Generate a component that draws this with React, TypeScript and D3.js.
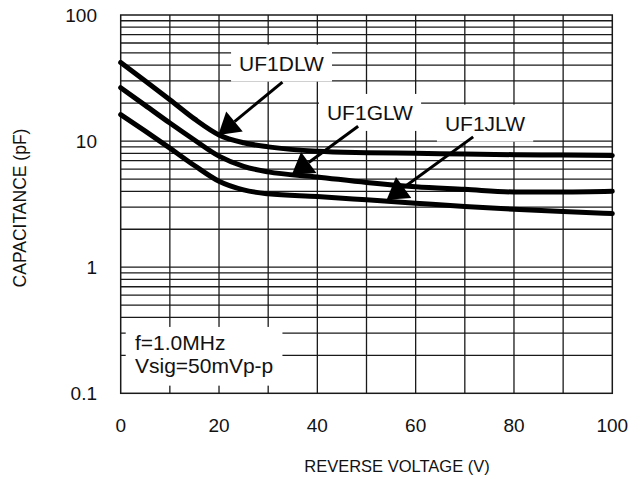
import React, { useEffect, useRef } from 'react';
import * as d3 from 'd3';

// reverse voltage (V) and capacitance (pF)
const voltage = [0, 5, 10, 15, 20, 25, 30, 40, 50, 60, 70, 80, 90, 100];
const capUF1DLW = [42, 30, 21.3, 15, 11.2, 9.7, 9.0, 8.3, 8.1, 8.0, 7.9, 7.8, 7.75, 7.7];
const capUF1GLW = [26.5, 19.2, 13.9, 10.2, 7.6, 6.3, 5.7, 5.2, 4.7, 4.35, 4.15, 3.95, 3.95, 4.0];
const capUF1JLW = [16.2, 12, 8.8, 6.4, 4.8, 4.1, 3.82, 3.63, 3.42, 3.22, 3.03, 2.88, 2.76, 2.66];

const xTicks = [0, 20, 40, 60, 80, 100];
const yTicks = [0.1, 1, 10, 100];
const yTickLabels = ['0.1', '1', '10', '100'];

// annotation callouts, in data units (V, pF)
const seriesNames = ['UF1DLW', 'UF1GLW', 'UF1JLW'];
const labelAt = [[32.7, 41.6], [50.7, 16.9], [74.1, 13.9]];
const arrowFrom = [[32.9, 29.4], [48.3, 13.1], [71.7, 10.8]];
const arrowTip = [[19.85, 11.2], [34.8, 5.4], [54.1, 3.42]];
const conditions = ['f=1.0MHz', 'Vsig=50mVp-p'];

const W = 642;
const H = 479;

const App: React.FC = () => {
  const svgRef = useRef<SVGSVGElement>(null);

  useEffect(() => {
    if (!svgRef.current) return;
    const svg = d3.select(svgRef.current);
    svg.selectAll('*').remove();

    const left = 120.7, right = 612.3, top = 15, bottom = 393.3;
    const font = '"Liberation Sans", Arial, sans-serif';

    const x = d3.scaleLinear().domain([0, 100]).range([left, right]);
    const y = d3.scaleLog().domain([0.1, 100]).range([bottom, top]);

    const grid = svg.append('g').attr('stroke', '#1a1a1a').attr('stroke-width', 1.3);

    // vertical grid every 10 V
    grid.selectAll('.vg')
      .data(d3.range(10, 100, 10))
      .enter()
      .append('line')
      .attr('x1', d => x(d)).attr('x2', d => x(d))
      .attr('y1', top).attr('y2', bottom);

    // horizontal log grid
    const hLines: number[] = [];
    [0.1, 1, 10].forEach(dec => {
      for (let k = 2; k <= 9; k++) hLines.push(dec * k);
    });
    hLines.push(1, 10);
    grid.selectAll('.hg')
      .data(hLines)
      .enter()
      .append('line')
      .attr('x1', left).attr('x2', right)
      .attr('y1', d => y(d)).attr('y2', d => y(d));

    // condition note box (covers grid, leaves stubs)
    svg.append('rect')
      .attr('x', x(0) + 5)
      .attr('y', y(0.336))
      .attr('width', x(32.9) - x(0) - 5)
      .attr('height', y(0.115) - y(0.336))
      .attr('fill', '#fff');
    svg.append('g')
      .selectAll('text')
      .data(conditions)
      .enter()
      .append('text')
      .attr('x', x(2.9))
      .attr('y', (_, i) => y(i === 0 ? 0.221 : 0.1437))
      .attr('font-family', font)
      .attr('font-size', 21)
      .attr('fill', '#111')
      .text(d => d);

    // frame
    svg.append('rect')
      .attr('x', left).attr('y', top)
      .attr('width', right - left).attr('height', bottom - top)
      .attr('fill', 'none')
      .attr('stroke', '#1a1a1a')
      .attr('stroke-width', 1.5);

    // curves
    const line = d3.line<number>()
      .x((_, i) => x(voltage[i]))
      .y(d => y(d))
      .curve(d3.curveMonotoneX);

    svg.append('g')
      .selectAll('path')
      .data([capUF1DLW, capUF1GLW, capUF1JLW])
      .enter()
      .append('path')
      .attr('d', d => line(d))
      .attr('fill', 'none')
      .attr('stroke', '#000')
      .attr('stroke-width', 5)
      .attr('stroke-linecap', 'round');

    // callout labels
    const labels = svg.append('g');
    seriesNames.forEach((name, i) => {
      const g = labels.append('g');
      const t = g.append('text')
        .attr('x', x(labelAt[i][0]))
        .attr('y', y(labelAt[i][1]))
        .attr('text-anchor', 'middle')
        .attr('dy', '0.36em')
        .attr('font-family', font)
        .attr('font-size', 21)
        .attr('fill', '#111')
        .text(name);
      const bb = (t.node() as SVGTextElement).getBBox();
      g.insert('rect', 'text')
        .attr('x', bb.x - 8)
        .attr('y', bb.y - 7)
        .attr('width', bb.width + 16)
        .attr('height', bb.height + 14)
        .attr('fill', '#fff');

      // arrow
      const x0 = x(arrowFrom[i][0]), y0 = y(arrowFrom[i][1]);
      const x1 = x(arrowTip[i][0]), y1 = y(arrowTip[i][1]);
      const len = Math.hypot(x1 - x0, y1 - y0);
      const ux = (x1 - x0) / len, uy = (y1 - y0) / len;
      const headL = 21, headW = 13;
      const bx = x1 - ux * headL, by = y1 - uy * headL;
      g.append('line')
        .attr('x1', x0).attr('y1', y0)
        .attr('x2', bx).attr('y2', by)
        .attr('stroke', '#000')
        .attr('stroke-width', 3);
      g.append('polygon')
        .attr('points', [
          [x1, y1],
          [bx - uy * headW, by + ux * headW],
          [bx + uy * headW, by - ux * headW],
        ].map(p => p.join(',')).join(' '))
        .attr('fill', '#000');
    });

    // y tick labels
    svg.append('g')
      .selectAll('text')
      .data(yTicks)
      .enter()
      .append('text')
      .attr('x', 97)
      .attr('y', d => y(d))
      .attr('dy', '0.36em')
      .attr('text-anchor', 'end')
      .attr('font-family', font)
      .attr('font-size', 19)
      .attr('fill', '#111')
      .text((_, i) => yTickLabels[i]);

    // x tick labels
    svg.append('g')
      .selectAll('text')
      .data(xTicks)
      .enter()
      .append('text')
      .attr('x', d => x(d))
      .attr('y', 432)
      .attr('text-anchor', 'middle')
      .attr('font-family', font)
      .attr('font-size', 19)
      .attr('fill', '#111')
      .text(d => String(d));

    // axis titles
    svg.append('text')
      .attr('x', 397)
      .attr('y', 472)
      .attr('text-anchor', 'middle')
      .attr('font-family', font)
      .attr('font-size', 16.5)
      .attr('fill', '#111')
      .text('REVERSE VOLTAGE (V)');

    svg.append('text')
      .attr('transform', `translate(26,208) rotate(-90)`)
      .attr('text-anchor', 'middle')
      .attr('font-family', font)
      .attr('font-size', 17.5)
      .attr('fill', '#111')
      .text('CAPACITANCE (pF)');
  }, []);

  return (
    <svg
      ref={svgRef}
      width={W}
      height={H}
      style={{ position: 'absolute', left: 0, top: 0, background: '#fff' }}
    />
  );
};

export default App;
